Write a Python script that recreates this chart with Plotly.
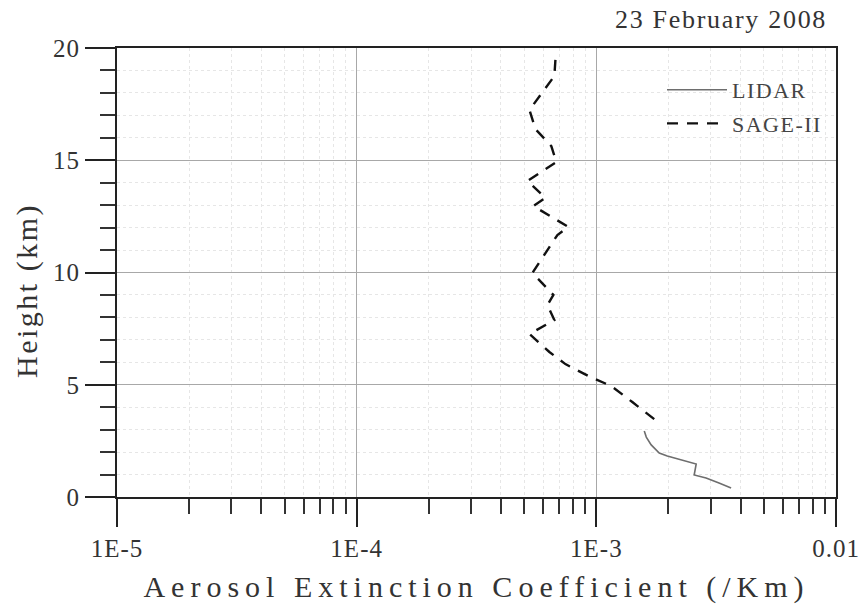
import plotly.graph_objects as go

# LIDAR profile
lidar_ext = [1.585e-3, 1.616e-3, 1.694e-3, 1.83e-3, 1.977e-3, 2.22e-3, 2.44e-3, 2.61e-3,
             2.56e-3, 2.87e-3, 3.25e-3, 3.65e-3]
lidar_h = [2.94, 2.67, 2.32, 1.96, 1.83, 1.69, 1.56, 1.47, 0.98, 0.85, 0.62, 0.40]

# SAGE-II profile
sage_ext = [6.75e-4, 6.68e-4, 5.26e-4, 5.57e-4, 6.49e-4, 6.81e-4, 5.16e-4, 6.13e-4, 5.46e-4,
            7.64e-4, 6.88e-4, 6.07e-4, 5.41e-4, 6.62e-4, 6.25e-4, 6.68e-4, 5.26e-4, 6.37e-4,
            7.43e-4, 9.26e-4, 1.155e-3, 1.413e-3, 1.762e-3]
sage_h = [19.47, 18.75, 17.24, 16.39, 15.63, 14.92, 14.08, 13.32, 12.96,
          12.03, 11.67, 10.78, 9.98, 9.0, 8.55, 7.88, 7.26, 6.46,
          5.92, 5.39, 4.94, 4.23, 3.43]

x_tickvals = [1e-5, 1e-4, 1e-3, 1e-2]
x_ticktext = ["1E-5", "1E-4", "1E-3", "0.01"]
y_tickvals = [0, 5, 10, 15, 20]
y_ticktext = ["0", "5", "10", "15", "20"]

FONT = "Liberation Serif"


def spaced(s, px):
    return '<span style="letter-spacing:%spx">%s</span>' % (px, s)


fig = go.Figure()
fig.add_trace(go.Scatter(x=lidar_ext, y=lidar_h, mode="lines", name=spaced("LIDAR", 1.5),
                         legendgroup="a",
                         line=dict(color="#6e6e6e", width=1.6)))
fig.add_trace(go.Scatter(x=sage_ext, y=sage_h, mode="lines", name=spaced("SAGE-II", 1.5),
                         legendgroup="b",
                         line=dict(color="#111111", width=2.4, dash="11px,9px")))

L, T, W, H = 117, 48, 719, 449
fig.update_layout(
    width=862, height=608,
    margin=dict(l=L, r=862 - L - W, t=T, b=608 - T - H, autoexpand=False),
    paper_bgcolor="white", plot_bgcolor="white",
    font=dict(family=FONT, color="#333333", size=19),
    showlegend=True,
    legend=dict(x=(662 - L) / W, y=1 - (69 - T) / H, xanchor="left", yanchor="top",
                bgcolor="rgba(0,0,0,0)", font=dict(family=FONT, size=22, color="#444"),
                tracegroupgap=2, itemwidth=60),
    annotations=[
        dict(text=spaced("23 February 2008", 1.7), x=(829 - L) / W, xref="paper",
             xanchor="right", y=1 + (T - 19) / H, yref="paper", yanchor="middle",
             showarrow=False, font=dict(family=FONT, size=26, color="#333")),
        dict(text=spaced("Height (km)", 2.5), textangle=-90, x=(27 - L) / W, xref="paper",
             xanchor="center", y=(T + H - 291) / H, yref="paper", yanchor="middle",
             showarrow=False, font=dict(family=FONT, size=30, color="#333")),
    ],
)

fig.update_xaxes(
    type="log", range=[-5, -2], automargin=False,
    tickvals=x_tickvals, ticktext=[spaced(t, 1) for t in x_ticktext],
    ticks="outside", ticklen=28, tickwidth=2, tickcolor="#222",
    showline=True, linecolor="#222", linewidth=2, mirror=True,
    showgrid=True, gridcolor="#a8a8a8", gridwidth=1,
    zeroline=False,
    minor=dict(dtick="D1", ticks="outside", ticklen=15, tickwidth=2, tickcolor="#333",
               showgrid=True, gridcolor="#e6e6e6", griddash="dot", gridwidth=1),
    title=dict(text=spaced("Aerosol Extinction Coefficient (/Km)", 6), standoff=15,
               font=dict(family=FONT, size=30, color="#333")),
    tickfont=dict(family=FONT, size=25, color="#333"),
)
fig.update_yaxes(
    range=[0, 20], tickvals=y_tickvals, ticktext=[spaced(t, 1) for t in y_ticktext],
    automargin=False,
    ticks="outside", ticklen=30, tickwidth=2, tickcolor="#222",
    showline=True, linecolor="#222", linewidth=2, mirror=True,
    showgrid=True, gridcolor="#a8a8a8", gridwidth=1,
    zeroline=False,
    minor=dict(dtick=1, ticks="outside", ticklen=15, tickwidth=2, tickcolor="#333",
               showgrid=True, gridcolor="#e6e6e6", griddash="dot", gridwidth=1),
    tickfont=dict(family=FONT, size=25, color="#333"),
)

fig.write_html("out.html", config={"displayModeBar": False},
               post_script="document.body.style.margin='0px';")
